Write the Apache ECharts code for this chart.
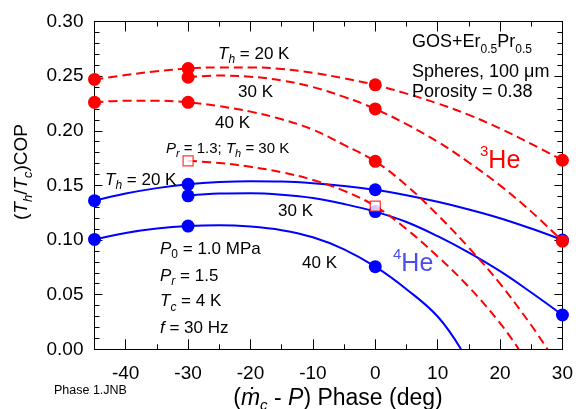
<!DOCTYPE html>
<html><head><meta charset="utf-8">
<script src="https://cdn.jsdelivr.net/npm/echarts@6/dist/echarts.min.js"></script>
<style>html,body{margin:0;padding:0;background:#fff}#c{width:576px;height:409px}</style>
</head><body><div id="c"></div>
<script>
// ---- axis ticks ----
const xTicks = [-40, -30, -20, -10, 0, 10, 20, 30];
const xMinorTicks = [-45, -35, -25, -15, -5, 5, 15, 25];
const yMin = 0, yMax = 0.30, yStep = 0.05;

// ---- 3He (red, dashed) measured points ----
const he3_20K_pts = [[-45, 0.247], [-30, 0.257], [0, 0.242], [30, 0.173]];
const he3_30K_pts = [[-30, 0.249], [0, 0.220], [30, 0.099]];
const he3_40K_pts = [[-45, 0.226], [-30, 0.226], [0, 0.172]];
const he3_Pr13_pts = [[-30, 0.1725], [0, 0.131]];
// ---- 3He curves ----
const he3_20K_curve = [[-45,0.247],[-40,0.251],[-35,0.2545],[-30,0.257],[-25,0.258],[-20,0.258],[-15,0.2565],[-10,0.253],[-5,0.248],[0,0.242],[5,0.234],[10,0.225],[15,0.2145],[20,0.202],[25,0.188],[30,0.173]];
const he3_30K_curve = [[-30,0.249],[-25,0.2505],[-20,0.2495],[-15,0.246],[-10,0.240],[-5,0.231],[0,0.220],[5,0.206],[10,0.190],[15,0.171],[20,0.150],[25,0.126],[30,0.099]];
const he3_40K_curve = [[-45,0.226],[-40,0.2275],[-35,0.2275],[-30,0.226],[-25,0.2225],[-20,0.2175],[-15,0.2105],[-10,0.201],[-5,0.187],[0,0.172],[5,0.150],[10,0.123],[15,0.093],[20,0.060],[25,0.022],[27.6,0]];
const he3_Pr13_curve = [[-30,0.1725],[-25,0.1705],[-20,0.167],[-15,0.162],[-10,0.155],[-5,0.145],[0,0.131],[5,0.110],[10,0.085],[15,0.057],[20,0.024],[23,0]];

// ---- 4He (blue, solid) measured points ----
const he4_20K_pts = [[-45, 0.136], [-30, 0.151], [0, 0.146], [30, 0.100]];
const he4_30K_pts = [[-30, 0.1405], [0, 0.126], [30, 0.0314]];
const he4_40K_pts = [[-45, 0.1006], [-30, 0.1128], [0, 0.0756]];
// ---- 4He curves ----
const he4_20K_curve = [[-45,0.136],[-40,0.1425],[-35,0.1475],[-30,0.151],[-25,0.153],[-20,0.1538],[-15,0.1535],[-10,0.152],[-5,0.1495],[0,0.146],[5,0.141],[10,0.135],[15,0.128],[20,0.120],[25,0.1105],[30,0.100]];
const he4_30K_curve = [[-30,0.1405],[-25,0.1425],[-20,0.1428],[-15,0.1415],[-10,0.1385],[-5,0.133],[0,0.126],[5,0.1165],[10,0.1035],[15,0.0885],[20,0.0715],[25,0.052],[30,0.0314]];
const he4_40K_curve = [[-45,0.1006],[-40,0.1065],[-35,0.1105],[-30,0.1128],[-25,0.1135],[-20,0.1123],[-15,0.109],[-10,0.1025],[-5,0.0915],[0,0.0756],[5,0.055],[10,0.030],[13.75,0]];

const RED = '#ff0000', BLUE = '#0000ff', BLUE2 = '#4c4cf5';
const FONT = "'Liberation Sans', Arial, 'DejaVu Sans', sans-serif";

function rich(F, f, d, color) {
  return {
    n: {fontSize: F, fontFamily: FONT, fill: color},
    i: {fontSize: F, fontFamily: FONT, fontStyle: 'italic', fill: color},
    si: {fontSize: f, fontFamily: FONT, fontStyle: 'italic', fill: color, padding: [d, 0, 0, 0]},
    sn: {fontSize: f, fontFamily: FONT, fill: color, padding: [d, 0, 0, 0]},
    sup: {fontSize: f, fontFamily: FONT, fill: color, padding: [0, 0, d, 0]}
  };
}
function txt(x, y, text, F, f, d, opts) {
  opts = opts || {};
  const color = opts.color || '#000';
  return {
    type: 'text', x: x, y: y, rotation: opts.rotation || 0, z: 100,
    style: {
      text: text, rich: rich(F, f, d, color), fill: color, fontSize: F, fontFamily: FONT,
      align: opts.align || 'left', verticalAlign: 'middle',
      textAlign: opts.align || 'left', textVerticalAlign: 'middle'
    }
  };
}

function xAx(pos, ticks, len, label) {
  return {
    type: 'value', min: -45, max: 30, position: pos,
    axisLine: {show: true, onZero: false, lineStyle: {color: '#000', width: 1}},
    axisTick: {show: true, inside: true, length: len, customValues: ticks, lineStyle: {color: '#000', width: 1}},
    axisLabel: label ? {show: true, customValues: ticks, color: '#000', fontSize: 19, fontFamily: FONT, margin: 15}
                     : {show: false},
    splitLine: {show: false}
  };
}
function yAx(pos, label) {
  return {
    type: 'value', min: yMin, max: yMax, interval: yStep, position: pos,
    axisLine: {show: true, onZero: false, lineStyle: {color: '#000', width: 1}},
    axisTick: {show: true, inside: true, length: 8, lineStyle: {color: '#000', width: 1}},
    minorTick: {show: true, splitNumber: 5, length: 5, lineStyle: {color: '#000', width: 1}},
    axisLabel: label ? {show: true, color: '#000', fontSize: 19, fontFamily: FONT, margin: 11,
                        formatter: v => v.toFixed(2)} : {show: false},
    splitLine: {show: false}, minorSplitLine: {show: false}
  };
}

function curve(data, color, dashed, z) {
  return {type: 'line', data: data, smooth: 0.4, symbol: 'none', silent: true, z: z,
          lineStyle: {color: color, width: 2, type: dashed ? [9, 5] : 'solid'}, clip: true};
}
function pts(data, color, z) {
  return {type: 'scatter', data: data, symbol: 'circle', symbolSize: 13, z: z,
          itemStyle: {color: color, opacity: 1}};
}

const chart = echarts.init(document.getElementById('c'), null, {renderer: 'canvas'});
chart.setOption({
  animation: false,
  backgroundColor: '#fff',
  grid: {left: 94.5, right: 12, top: 21.5, bottom: 59.7, containLabel: false},
  xAxis: [xAx('bottom', xTicks, 10, true), xAx('bottom', xMinorTicks, 5, false),
          xAx('top', xTicks, 10, false), xAx('top', xMinorTicks, 5, false)],
  yAxis: [yAx('left', true), yAx('right', false)],
  series: [
    curve(he4_20K_curve, BLUE, false, 2), curve(he4_30K_curve, BLUE, false, 2), curve(he4_40K_curve, BLUE, false, 2),
    pts(he4_20K_pts, BLUE, 3), pts(he4_30K_pts, BLUE, 3), pts(he4_40K_pts, BLUE, 3),
    curve(he3_20K_curve, RED, true, 4), curve(he3_30K_curve, RED, true, 4), curve(he3_40K_curve, RED, true, 4),
    curve(he3_Pr13_curve, RED, true, 4),
    pts(he3_20K_pts, RED, 5), pts(he3_30K_pts, RED, 5), pts(he3_40K_pts, RED, 5),
    {type: 'scatter', data: he3_Pr13_pts, symbol: 'rect', symbolSize: 10, z: 6,
     itemStyle: {color: '#fff', borderColor: RED, borderWidth: 1.2}}
  ],
  graphic: [
    txt(218, 54, '{i|T}{si|h}{n| = 20 K}', 17, 12, 12),
    txt(238, 92, '{n|30 K}', 17, 12, 12),
    txt(215, 123, '{n|40 K}', 17, 12, 12),
    txt(166, 148.5, '{i|P}{si|r}{n| = 1.3; }{i|T}{si|h}{n| = 30 K}', 15, 11, 10),
    txt(105, 180, '{i|T}{si|h}{n| = 20 K}', 17, 12, 12),
    txt(278, 211, '{n|30 K}', 17, 12, 12),
    txt(302, 263, '{n|40 K}', 17, 12, 12),
    txt(160, 249, '{i|P}{sn|0}{n| = 1.0 MPa}', 17, 12, 12),
    txt(160, 276, '{i|P}{si|r}{n| = 1.5}', 17, 12, 12),
    txt(160, 301.5, '{i|T}{si|c}{n| = 4 K}', 17, 12, 12),
    txt(160, 328.5, '{i|f}{n| = 30 Hz}', 17, 12, 12),
    txt(412, 42.5, '{n|GOS+Er}{sn|0.5}{n|Pr}{sn|0.5}', 18, 12, 14),
    txt(412, 72.5, '{n|Spheres, 100 μm}', 18, 12, 12),
    txt(412, 92.5, '{n|Porosity = 0.38}', 18, 12, 12),
    txt(480, 161, '{sup|3}{n|He}', 25, 15, 18, {color: RED}),
    txt(393, 264, '{sup|4}{n|He}', 25, 15, 18, {color: BLUE2}),
    txt(54, 391, '{n|Phase 1.JNB}', 12.5, 9, 8),
    txt(338, 399, '{n|(}{i|ṁ}{si|c}{n| - }{i|P}{n|) Phase (deg)}', 23, 15, 14, {align: 'center'}),
    txt(21.5, 172, '{n|(}{i|T}{si|h}{n|/}{i|T}{si|c}{n|)COP}', 19, 13, 13, {align: 'center', rotation: Math.PI / 2})
  ]
});
</script>
</body></html>
